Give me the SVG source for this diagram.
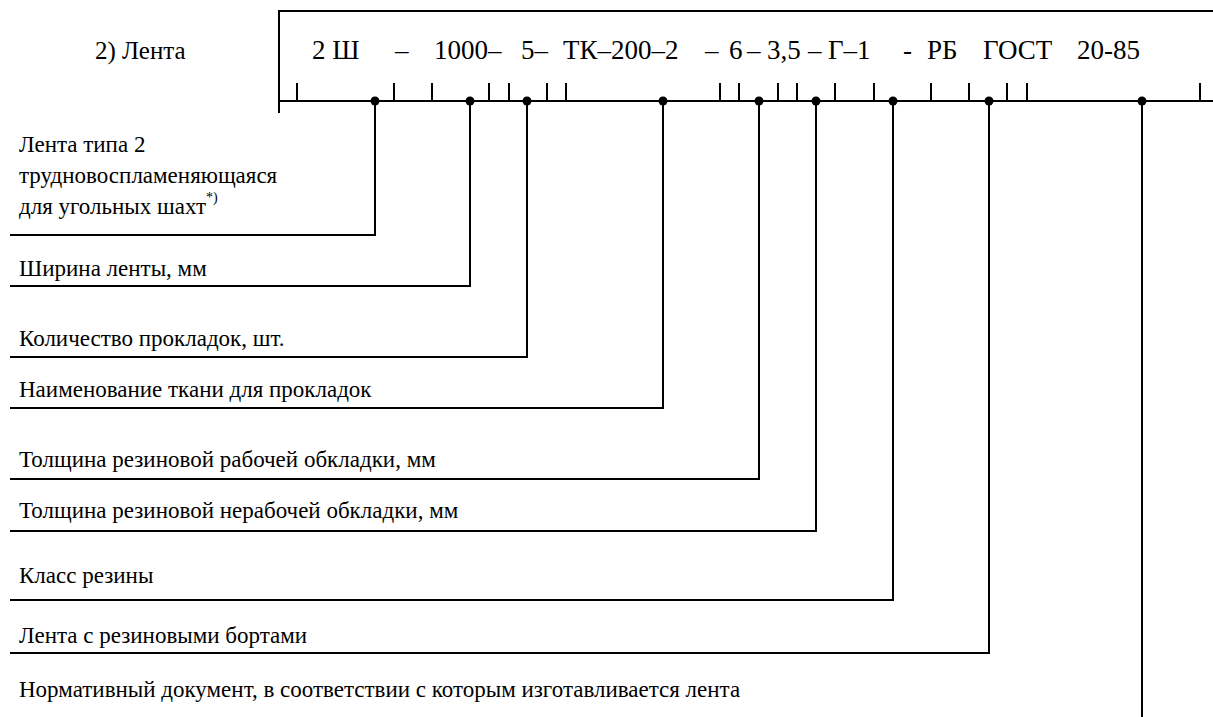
<svg xmlns="http://www.w3.org/2000/svg" width="1213" height="717" viewBox="0 0 1213 717">
<style>
.tx{font-family:"Liberation Serif",serif;fill:#000}
.lab{font-size:23px}
.code{font-size:27px}
.ln{stroke:#000;stroke-width:2;fill:none}
.dot{fill:#000}
</style>
<rect width="1213" height="717" fill="#fff"/>
<g id="title"><text class="tx" x="95" y="59" font-size="25" font-family="Liberation Serif">2) Лента</text></g>
<g id="code">
<path class="ln" d="M279,113 V11 H1213 M279,101 H1213"/>
<path class="ln" d="M297,83V101M394,83V101M432,83V101M489,83V101M509,83V101M547,83V101M566,83V101M720,83V101M739,83V101M778,83V101M797,83V101M835,83V101M874,83V101M931,83V101M969,83V101M1007,83V101M1027,83V101M1200,83V101"/>
<text class="tx code" y="59" font-family="Liberation Serif"><tspan x="312">2 Ш</tspan><tspan x="395">–</tspan><tspan x="434">1000–</tspan><tspan x="521">5–</tspan><tspan x="563">ТК–200–2</tspan><tspan x="705">–</tspan><tspan x="729">6</tspan><tspan x="747">–</tspan><tspan x="767">3,5</tspan><tspan x="808">–</tspan><tspan x="828">Г–1</tspan><tspan x="903">-</tspan><tspan x="927">РБ</tspan><tspan x="983">ГОСТ</tspan><tspan x="1077">20-85</tspan></text>
</g>
<g id="connectors">
<path class="ln" d="M375,101V235H10"/>
<path class="ln" d="M470,101V286H10"/>
<path class="ln" d="M527,101V357H10"/>
<path class="ln" d="M663,101V408H10"/>
<path class="ln" d="M759,101V479H10"/>
<path class="ln" d="M816,101V531H10"/>
<path class="ln" d="M893,101V600H10"/>
<path class="ln" d="M989,101V653H10"/>
<path class="ln" d="M1142,101V717"/>
<circle class="dot" cx="375" cy="101" r="4.5"/><circle class="dot" cx="470" cy="101" r="4.5"/><circle class="dot" cx="527" cy="101" r="4.5"/><circle class="dot" cx="663" cy="101" r="4.5"/><circle class="dot" cx="759" cy="101" r="4.5"/><circle class="dot" cx="816" cy="101" r="4.5"/><circle class="dot" cx="893" cy="101" r="4.5"/><circle class="dot" cx="989" cy="101" r="4.5"/><circle class="dot" cx="1142" cy="101" r="4.5"/>
</g>
<g id="n1"><text class="tx lab" x="19" y="152">Лента типа 2</text><text class="tx lab" x="19" y="183">трудновоспламеняющаяся</text><text class="tx lab" x="19" y="214">для угольных шахт<tspan dy="-12" font-size="14">*)</tspan></text></g>
<g id="n2"><text class="tx lab" x="19" y="276">Ширина ленты, мм</text></g>
<g id="n3"><text class="tx lab" x="19" y="346">Количество прокладок, шт.</text></g>
<g id="n4"><text class="tx lab" x="19" y="397">Наименование ткани для прокладок</text></g>
<g id="n5"><text class="tx lab" x="19" y="467">Толщина резиновой рабочей обкладки, мм</text></g>
<g id="n6"><text class="tx lab" x="19" y="518">Толщина резиновой нерабочей обкладки, мм</text></g>
<g id="n7"><text class="tx lab" x="19" y="583">Класс резины</text></g>
<g id="n8"><text class="tx lab" x="19" y="643">Лента с резиновыми бортами</text></g>
<g id="n9"><text class="tx lab" x="19" y="697">Нормативный документ, в соответствии с которым изготавливается лента</text></g>
</svg>
